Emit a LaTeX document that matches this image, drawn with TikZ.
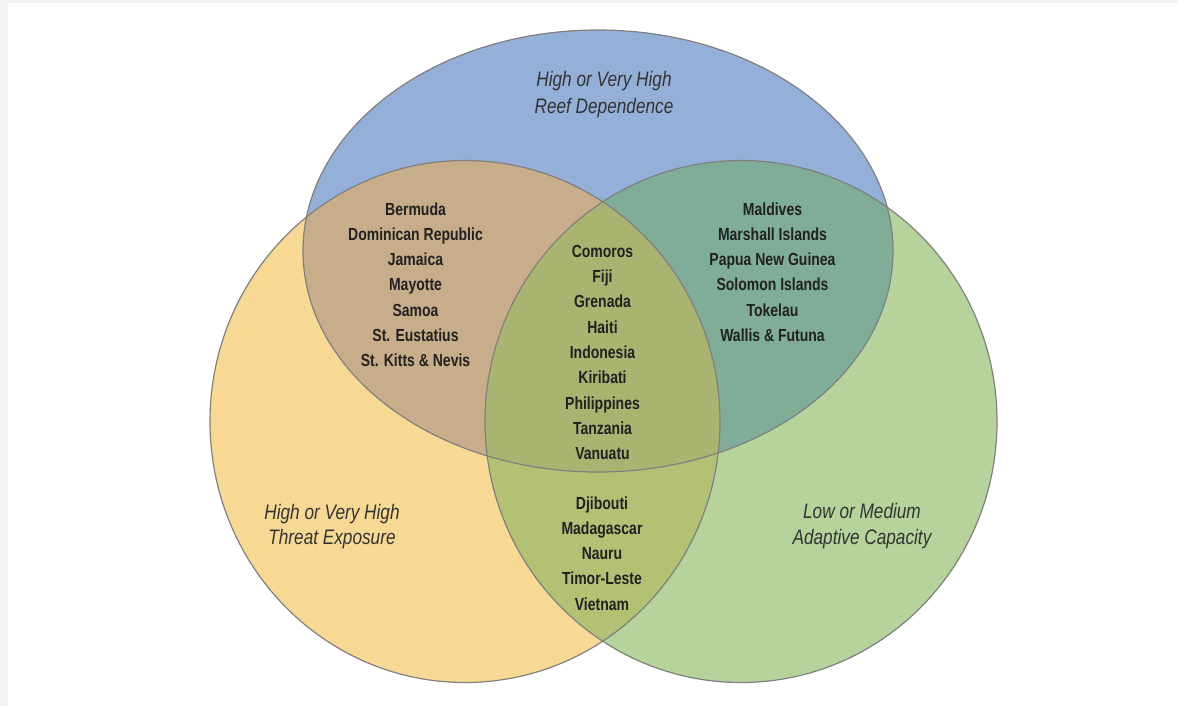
\documentclass[tikz,border=0pt]{standalone}
\usepackage{fontspec}
\newfontfamily\countryfont[FakeStretch=0.8]{Liberation Sans}
\newfontfamily\labelfont[FakeStretch=0.82]{Liberation Sans}

\definecolor{reefblue}{HTML}{95B0D8}
\definecolor{threatyellow}{HTML}{F8D994}
\definecolor{adaptgreen}{HTML}{B5D39A}
\definecolor{reefthreat}{HTML}{C8AD8A}
\definecolor{reefadapt}{HTML}{80AD98}
\definecolor{threatadapt}{HTML}{B3C175}
\definecolor{allthree}{HTML}{A8B46F}

\tikzset{
  country/.style={anchor=base,text=black!87,font=\countryfont\bfseries\fontsize{17.5}{20}\selectfont},
  setlabel/.style={anchor=base,text=black!80,font=\labelfont\itshape\fontsize{21}{24}\selectfont},
  rim/.style={draw=black!50,line width=1.2pt}
}

\def\reefshape{(598,251) ellipse [x radius=295,y radius=221]}
\def\threatshape{(465,421.5) ellipse [x radius=255,y radius=261]}
\def\adaptshape{(741,421.5) ellipse [x radius=256,y radius=261]}

\begin{document}
\begin{tikzpicture}[x=1pt,y=-1pt]
  \fill[black!5] (0,0) rectangle (1178,706);
  \fill[white] (8,3) rectangle (1178,706);
  \useasboundingbox (0,0) rectangle (1178,706);

  % the three sets
  \fill[reefblue] \reefshape;
  \fill[threatyellow] \threatshape;
  \fill[adaptgreen] \adaptshape;
  \begin{scope}
    \clip \reefshape;
    \fill[reefthreat] \threatshape;
    \fill[reefadapt] \adaptshape;
  \end{scope}
  \begin{scope}
    \clip \threatshape;
    \fill[threatadapt] \adaptshape;
  \end{scope}
  \begin{scope}
    \clip \reefshape;
    \clip \threatshape;
    \fill[allthree] \adaptshape;
  \end{scope}
  \draw[rim] \reefshape;
  \draw[rim] \threatshape;
  \draw[rim] \adaptshape;

  % set names
  \foreach \line [count=\i] in {High or Very High,Reef Dependence}
    \node[setlabel] (reef\i) at (604,{86.7+26.7*(\i-1)}) {\line};
  \foreach \line [count=\i] in {High or Very High,Threat Exposure}
    \node[setlabel] (threat\i) at (332,{519+25.5*(\i-1)}) {\line};
  \foreach \line [count=\i] in {Low or Medium,Adaptive Capacity}
    \node[setlabel] (adapt\i) at (862,{518+26.5*(\i-1)}) {\line};

  % countries
  \foreach \name [count=\i] in {Bermuda,Dominican Republic,Jamaica,Mayotte,Samoa,St. Eustatius,St. Kitts \& Nevis}
    \node[country] (reefthreat\i) at (415.5,{215+25.3*(\i-1)}) {\name};
  \foreach \name [count=\i] in {Maldives,Marshall Islands,Papua New Guinea,Solomon Islands,Tokelau,Wallis \& Futuna}
    \node[country] (reefadapt\i) at (772.5,{215+25.3*(\i-1)}) {\name};
  \foreach \name [count=\i] in {Comoros,Fiji,Grenada,Haiti,Indonesia,Kiribati,Philippines,Tanzania,Vanuatu}
    \node[country] (allthree\i) at (602.5,{257.3+25.33*(\i-1)}) {\name};
  \foreach \name [count=\i] in {Djibouti,Madagascar,Nauru,Timor-Leste,Vietnam}
    \node[country] (threatadapt\i) at (602,{509.3+25.2*(\i-1)}) {\name};
\end{tikzpicture}
\end{document}
